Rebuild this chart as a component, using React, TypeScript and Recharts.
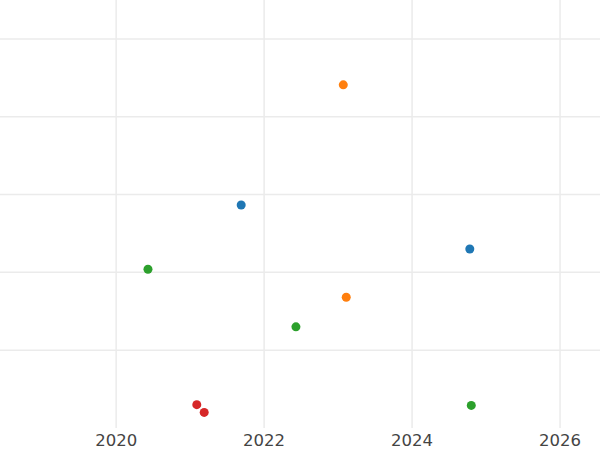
import { ScatterChart, Scatter, XAxis, YAxis, CartesianGrid } from 'recharts'

const blueYears = [2021.69, 2024.78]
const blueValues = [2.865, 2.3]
const orangeYears = [2023.07, 2023.11]
const orangeValues = [4.41, 1.68]
const greenYears = [2020.43, 2022.43, 2024.8]
const greenValues = [2.04, 1.3, 0.29]
const redYears = [2021.09, 2021.19]
const redValues = [0.3, 0.2]

const xTicks = [2020, 2022, 2024, 2026]
const yTicks = [1, 2, 3, 4, 5]

function toPoints(xs: number[], ys: number[]) {
  return xs.map((x, i) => ({ x, y: ys[i] }))
}

const series = [
  { name: 'blue', color: '#1f77b4', data: toPoints(blueYears, blueValues) },
  { name: 'orange', color: '#ff7f0e', data: toPoints(orangeYears, orangeValues) },
  { name: 'green', color: '#2ca02c', data: toPoints(greenYears, greenValues) },
  { name: 'red', color: '#d62728', data: toPoints(redYears, redValues) },
]

const dot = (color: string) => (props: any) => (
  <circle cx={props.cx} cy={props.cy} r={4.5} fill={color} />
)

export default function App() {
  return (
    <div style={{ position: 'absolute', left: 0, top: 0, width: 600, height: 450, background: '#fff' }}>
      <ScatterChart width={600} height={450} margin={{ top: 0, right: 0, left: 0, bottom: 0 }}>
        <CartesianGrid
          stroke="#ebebeb"
          strokeWidth={1.5}
          horizontalValues={yTicks}
          verticalValues={xTicks}
        />
        <XAxis
          type="number"
          dataKey="x"
          domain={[2018.43, 2026.54]}
          ticks={xTicks}
          axisLine={false}
          tickLine={false}
          height={22}
          tickMargin={0}
          tick={{ fontSize: 16.5, fill: '#444', fontFamily: 'DejaVu Sans' }}
          allowDataOverflow
        />
        <YAxis
          type="number"
          dataKey="y"
          domain={[0, 5.5]}
          ticks={yTicks}
          hide
          allowDataOverflow
        />
        {series.map(s => (
          <Scatter
            key={s.name}
            data={s.data}
            fill={s.color}
            shape={dot(s.color)}
            isAnimationActive={false}
          />
        ))}
      </ScatterChart>
    </div>
  )
}
